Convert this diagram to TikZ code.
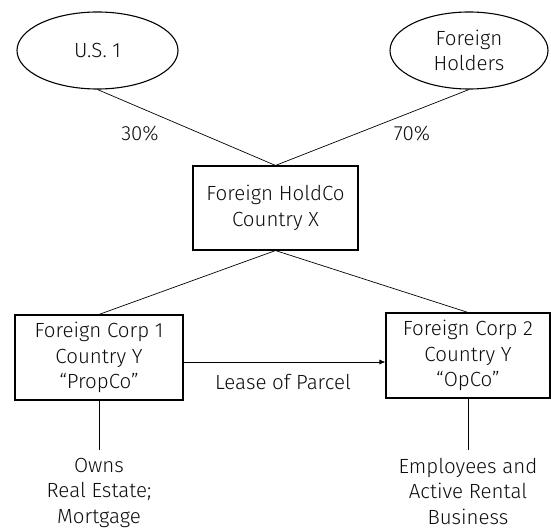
\documentclass[tikz,border=0pt]{standalone}
\usepackage{fontspec}
\setmainfont{Fira Sans Light}
\usetikzlibrary{shapes.geometric}
\usetikzlibrary{arrows.meta}
\usepackage{xcolor}

\tikzset{
    holder/.style = {draw, ellipse, line width = 1.1pt, inner sep = 0pt, align = center},
    entity/.style = {draw, rectangle, line width = 1.1pt, inner sep = 0pt, align = center},
    note/.style = {align = center, inner sep = 0pt},
    link/.style = {line width = 0.7pt}
}

\begin{document}
\begin{tikzpicture}[x = 1pt, y = -1pt, font = \fontsize{20.5}{25.5}\selectfont, text = black!95]
        \useasboundingbox (0,0) rectangle (551,529);

        % owners
        \node[holder, minimum width = 161pt, minimum height = 77pt] (us) at (97.5,50.5) {U.S. 1};
        \node[holder, minimum width = 158pt, minimum height = 77pt] (fh) at (469,50.5) {Foreign\\Holders};

        % holding company
        \node[entity, minimum width = 165pt, minimum height = 84pt] (hold) at (275.5,208) {Foreign HoldCo\\Country X};
            \draw[link] (us.south) -- (hold.north);
            \draw[link] (fh.south) -- (hold.north);
        \node[note] (pctus) at (140,134) {30\%};
        \node[note] (pctfh) at (412,134) {70\%};

        % subsidiaries
        \node[entity, minimum width = 168pt, minimum height = 85pt] (propco) at (99,357.5) {Foreign Corp 1\\Country Y\\``PropCo''};
        \node[entity, minimum width = 164pt, minimum height = 85pt] (opco) at (468,355.5) {Foreign Corp 2\\Country Y\\``OpCo''};
            \draw[link] (hold.south) -- (propco.north);
            \draw[link] (hold.south) -- (opco.north);

        % lease
        \coordinate (lease) at (283,362);
            \draw[link, -{Latex[length = 6pt, width = 5pt]}] (propco.east |- lease) -- (opco.west |- lease);
        \node[note] (leaselbl) at (283,382) {Lease of Parcel};

        % what each one holds
        \node[note, anchor = north] (owns) at (99,458) {Owns\\Real Estate;\\Mortgage};
        \node[note, anchor = north] (staff) at (468,458) {Employees and\\Active Rental\\Business};
            \draw[link] (propco.south) -- ++(0,49);
            \draw[link] (opco.south) -- ++(0,51);
    \end{tikzpicture}
\end{document}
